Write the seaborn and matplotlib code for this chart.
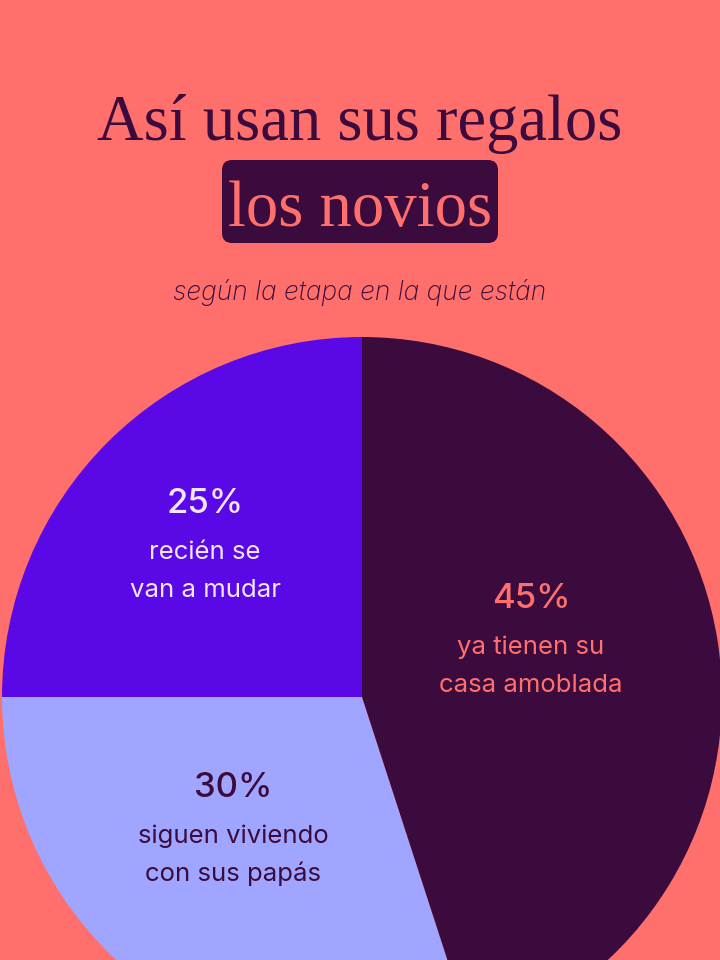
import matplotlib
matplotlib.use("Agg")
import matplotlib.pyplot as plt
import seaborn as sns
from matplotlib.patches import FancyBboxPatch

# datos
etapas = ["recién se\nvan a mudar", "siguen viviendo\ncon sus papás", "ya tienen su\ncasa amoblada"]
porcentajes = [25, 30, 45]
colores = ["#5A08E6", "#A0A6FF", "#3B0B3D"]
color_texto = ["#F1E6FF", "#3B0B3D", "#FF706C"]

fondo = "#FF6F6B"
oscuro = "#3B0B3D"
serif = ["Liberation Serif", "DejaVu Serif"]

sns.set_theme(style="white")
plt.rcParams["font.family"] = ["Inter", "DejaVu Sans"]

fig = plt.figure(figsize=(7.2, 9.6), dpi=100, facecolor=fondo)
ax = fig.add_axes([0, 0, 1, 1])
ax.set_facecolor(fondo)

H = 960
wedges, _ = ax.pie(porcentajes, colors=colores, startangle=90, counterclock=True,
                   center=(362, H - 697), radius=360, frame=True,
                   wedgeprops=dict(linewidth=0))
ax.set_xlim(0, 720)
ax.set_ylim(0, H)
ax.set_aspect("equal")
ax.axis("off")

# titulo
ax.text(360, H - 140, "Así usan sus regalos", ha="center", va="baseline",
        fontsize=46.5, color=oscuro, family=serif)
caja = FancyBboxPatch((222, H - 243), 276, 83, boxstyle="round,pad=0,rounding_size=10",
                      facecolor=oscuro, edgecolor="none", zorder=3)
ax.add_patch(caja)
ax.text(360, H - 226, "los novios", ha="center", va="baseline",
        fontsize=46.5, color=fondo, family=serif, zorder=4)
ax.text(360, H - 300, "según la etapa en la que están", ha="center", va="baseline",
        fontsize=19, color=oscuro, style="italic", fontweight="light")

# etiquetas de las porciones
posiciones = [(205, 513), (233, 797), (531, 608)]
for (x, y), p, et, c in zip(posiciones, porcentajes, etapas, color_texto):
    ax.text(x, H - y, f"{p}%", ha="center", va="baseline", fontsize=25,
            fontweight="medium", color=c)
    for i, linea in enumerate(et.split("\n")):
        ax.text(x, H - (y + 46 + 38 * i), linea, ha="center", va="baseline",
                fontsize=18.5, fontweight="normal", color=c)

fig.savefig("out.png", dpi=100, facecolor=fondo)
